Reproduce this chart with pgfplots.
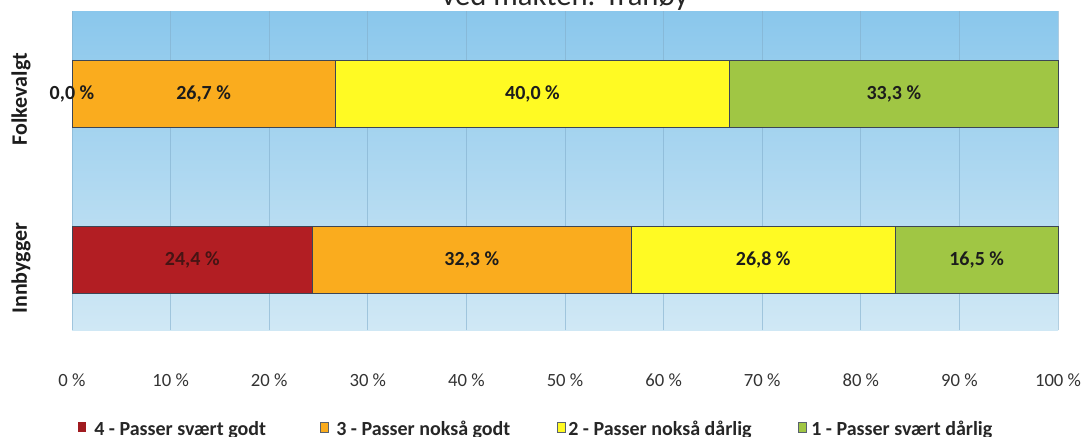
\documentclass[border=0pt]{standalone}
\usepackage{pgfplots}
\pgfplotsset{compat=1.18}
\usepackage{fontspec}
\setmainfont{Carlito}
\definecolor{c4}{RGB}{178,30,35}
\definecolor{c3}{RGB}{250,172,30}
\definecolor{c2}{RGB}{255,250,35}
\definecolor{c1}{RGB}{160,198,68}
\definecolor{bgtop}{RGB}{138,199,236}
\definecolor{bgbot}{RGB}{208,232,245}
\definecolor{gridc}{RGB}{130,175,205}
\definecolor{edge}{RGB}{60,70,85}
\definecolor{txt}{RGB}{28,28,28}
\definecolor{txtred}{RGB}{70,20,20}
\tikzset{lbl/.style={font=\fontsize{15}{17}\selectfont\bfseries, text=txt},
  leg/.style={anchor=base west, inner sep=0pt, font=\fontsize{15}{17}\selectfont\bfseries, text=black!85}}
\begin{document}
\begin{tikzpicture}
\useasboundingbox (0,0) rectangle (818.25pt,-327pt);
\begin{axis}[
  at={(54pt,-8.25pt)}, anchor=north west,
  scale only axis, width=739.5pt, height=239.25pt,
  xbar stacked, bar width=0.404,
  xmin=0, xmax=100, ymin=-0.42, ymax=1.5,
  xtick={0,10,...,100},
  xticklabels={0 \%,10 \%,20 \%,30 \%,40 \%,50 \%,60 \%,70 \%,80 \%,90 \%,100 \%},
  xticklabel style={font=\fontsize{14}{16}\selectfont, text=black!80, yshift=-29pt},
  ytick=\empty,
  major tick length=0pt,
  axis line style={draw=none},
  xmajorgrids, grid style={draw=gridc, line width=0.6pt, opacity=0.6},
  axis background/.style={top color=bgtop, bottom color=bgbot},
  every axis plot/.append style={draw=edge, line width=0.7pt},
  clip=false,
]
% 4 - Passer svært godt
\addplot[fill=c4] coordinates {(24.4,0) (0.0,1)};
% 3 - Passer nokså godt
\addplot[fill=c3] coordinates {(32.3,0) (26.7,1)};
% 2 - Passer nokså dårlig
\addplot[fill=c2] coordinates {(26.8,0) (40.0,1)};
% 1 - Passer svært dårlig
\addplot[fill=c1] coordinates {(16.5,0) (33.3,1)};
\coordinate (f1) at (axis cs:0,1);
\coordinate (f2) at (axis cs:13.35,1);
\coordinate (f3) at (axis cs:46.7,1);
\coordinate (f4) at (axis cs:83.35,1);
\coordinate (i1) at (axis cs:12.2,0);
\coordinate (i2) at (axis cs:40.55,0);
\coordinate (i3) at (axis cs:70.1,0);
\coordinate (i4) at (axis cs:91.75,0);
\end{axis}
\node[lbl] at (f1) {0,0 \%};
\node[lbl] at (f2) {26,7 \%};
\node[lbl] at (f3) {40,0 \%};
\node[lbl] at (f4) {33,3 \%};
\node[lbl, text=txtred] at (i1) {24,4 \%};
\node[lbl] at (i2) {32,3 \%};
\node[lbl] at (i3) {26,8 \%};
\node[lbl] at (i4) {16,5 \%};
% legend
\fill[c4!90!black] (58.5pt,-316.5pt) rectangle (64.5pt,-324pt);
\filldraw[fill=c3, draw=edge!85, line width=0.6pt] (240pt,-316.5pt) rectangle (246pt,-324pt);
\filldraw[fill=c2, draw=edge!85, line width=0.6pt] (417.75pt,-316.5pt) rectangle (423.75pt,-324pt);
\filldraw[fill=c1, draw=edge!85, line width=0.6pt] (598.5pt,-316.5pt) rectangle (604.5pt,-324pt);
\node[leg] at (70.5pt,-326.25pt) {4 - Passer svært godt};
\node[leg] at (252pt,-326.25pt) {3 - Passer nokså godt};
\node[leg] at (426pt,-326.25pt) {2 - Passer nokså dårlig};
\node[leg] at (608.25pt,-326.25pt) {1 - Passer svært dårlig};
% title (cut at top edge as in the source)
\node[anchor=base, font=\fontsize{23}{27}\selectfont, text=black!85] at (423.75pt,-3.75pt) {ved makten. Tranøy};
\node[rotate=90, font=\fontsize{16.5}{19}\selectfont\bfseries, text=txt] at (15.75pt,-74.25pt) {Folkevalgt};
\node[rotate=90, font=\fontsize{16.5}{19}\selectfont\bfseries, text=txt] at (15.75pt,-201pt) {Innbygger};
\end{tikzpicture}
\end{document}
